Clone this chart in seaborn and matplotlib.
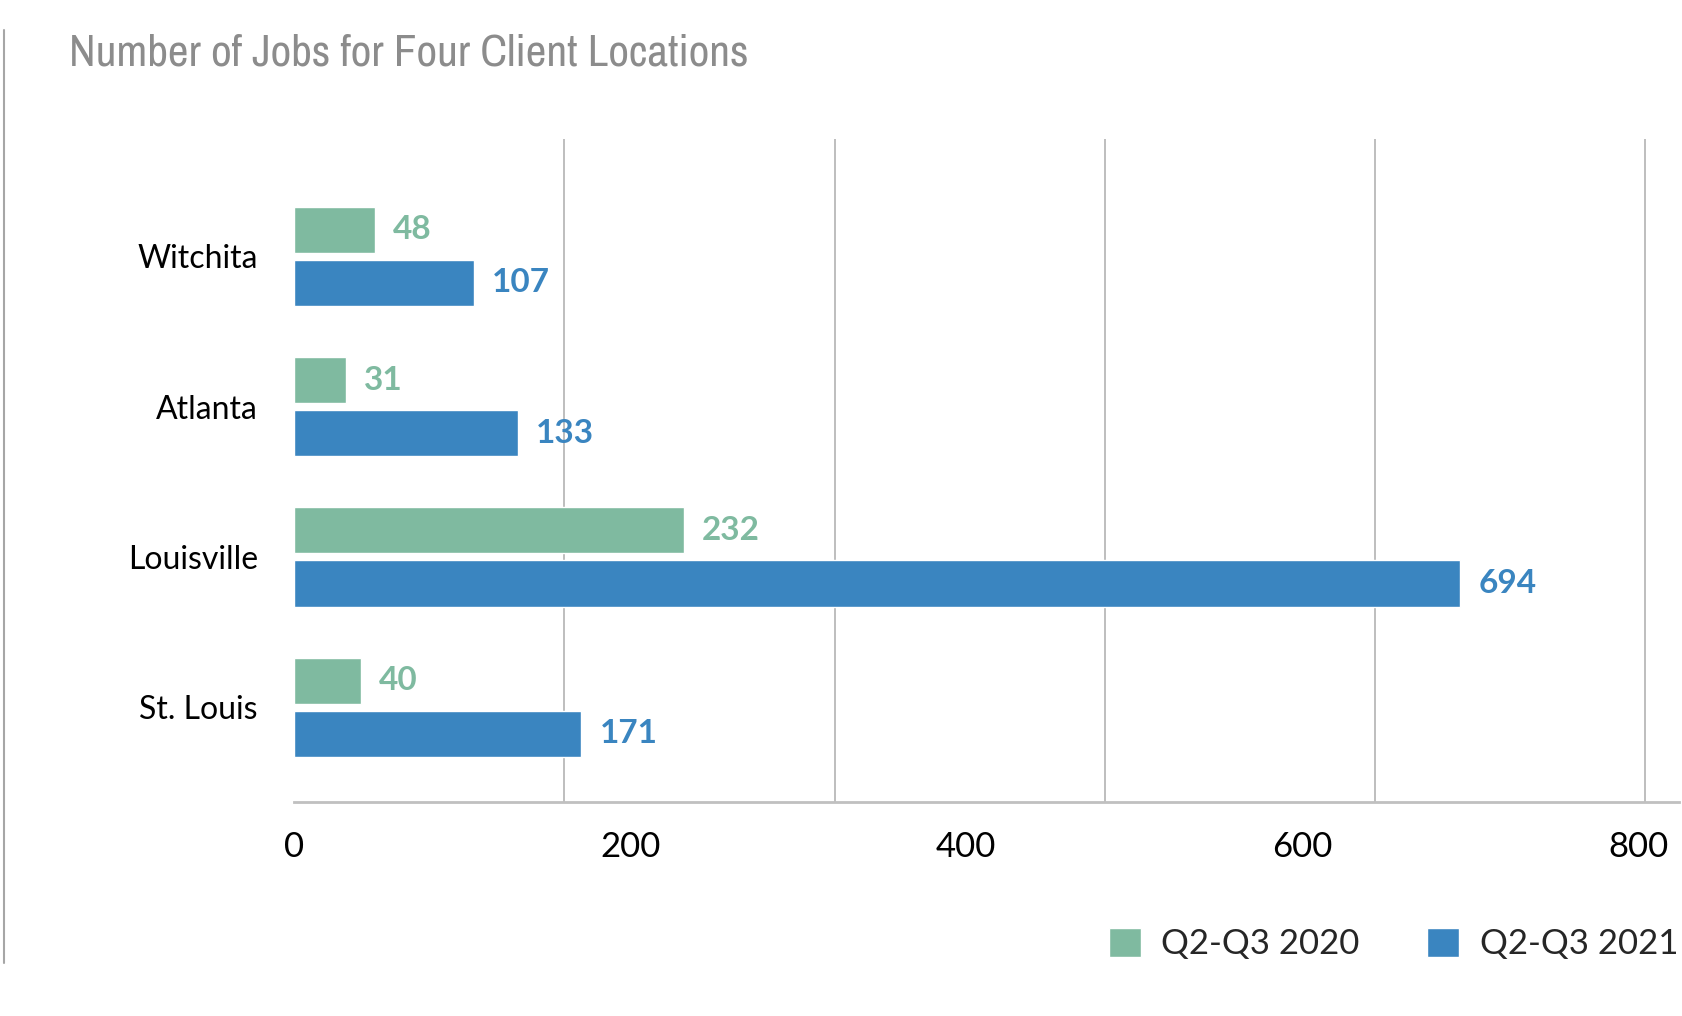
import matplotlib.pyplot as plt
import matplotlib.ticker as mticker
from matplotlib import font_manager
from matplotlib.lines import Line2D
import seaborn as sns
import pandas as pd

cities = ['Witchita', 'Atlanta', 'Louisville', 'St. Louis']
jobs_2020 = [48, 31, 232, 40]
jobs_2021 = [107, 133, 694, 171]
periods = ['Q2-Q3 2020', 'Q2-Q3 2021']
colors = ['#7FBAA0', '#3A85C0']
x_ticks = [0, 200, 400, 600, 800]

df = pd.DataFrame({
    'city': cities * 2,
    'jobs': jobs_2020 + jobs_2021,
    'period': [periods[0]] * len(cities) + [periods[1]] * len(cities),
})

# a narrow face for the title if one is installed, else Roboto
narrow = [f.name for f in font_manager.fontManager.ttflist
          if 'Narrow' in f.name or 'Condensed' in f.name]
title_family = narrow[:1] + ['Roboto', 'DejaVu Sans']

sns.set_style('white')
plt.rcParams['font.family'] = ['Lato', 'DejaVu Sans']

W, H = 1682, 1016
fig = plt.figure(figsize=(W / 100, H / 100), dpi=100)
ax = fig.add_axes([294 / W, 1 - 802 / H, (1679 - 294) / W, (802 - 139) / H])

sns.barplot(data=df, x='jobs', y='city', hue='period', orient='h',
            palette=colors, saturation=1, width=0.707, gap=0.13,
            errorbar=None, ax=ax)

for cont, col in zip(ax.containers, colors):
    ax.bar_label(cont, padding=13, color=col, fontsize=24, fontweight='bold')

ax.set_xlim(0, 824)
ax.set_ylim(3.63, -0.78)
ax.set_xticks(x_ticks)
ax.xaxis.set_minor_locator(mticker.MultipleLocator(160.8))
ax.grid(False)
ax.grid(which='minor', axis='x', color='#b3b3b3', lw=1.2)
ax.set_axisbelow(True)
ax.tick_params(axis='both', which='both', length=0, colors='black')
ax.tick_params(axis='x', pad=21, labelsize=25)
ax.tick_params(axis='y', pad=26, labelsize=23)
ax.set_xlabel('')
ax.set_ylabel('')
for side in ['top', 'right', 'left']:
    ax.spines[side].set_visible(False)
ax.spines['bottom'].set_color('#c0c0c0')
ax.spines['bottom'].set_linewidth(2)

handles, labels = ax.get_legend_handles_labels()
ax.legend_.remove()
fig.legend(handles, labels, loc='center right', bbox_to_anchor=(1678 / W, 1 - 944 / H),
           ncol=2, frameon=False, fontsize=25, handlelength=0.9, handleheight=0.9,
           handletextpad=0.6, columnspacing=1.95, borderpad=0, borderaxespad=0)

fig.text(69 / W, 1 - 65 / H, 'Number of Jobs for Four Client Locations', ha='left',
         va='baseline', color='#8c8c8c', fontsize=32.5, family=title_family)

fig.add_artist(Line2D([4 / W, 4 / W], [1 - 30 / H, 1 - 963 / H], color='#a6a6a6', lw=1.5))

fig.savefig('out.png', dpi=100)
